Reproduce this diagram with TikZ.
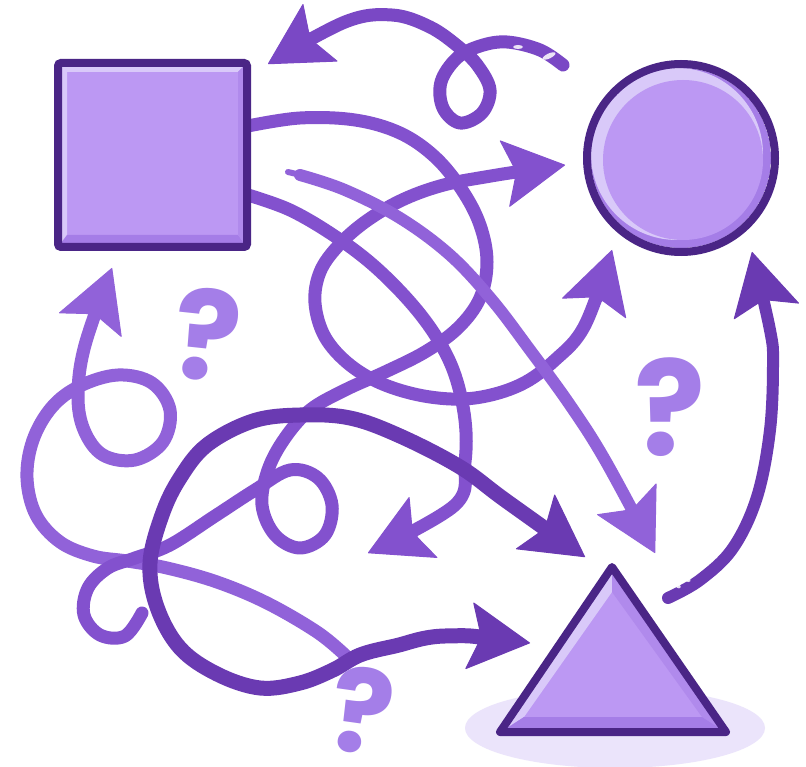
\documentclass[tikz,border=0pt]{standalone}
\usepackage{fontspec}
\newfontfamily\qfont{Poppins}
\usetikzlibrary{arrows.meta}
\definecolor{dk}{HTML}{4A2586}
\definecolor{fillmain}{HTML}{BC98F3}
\definecolor{hl}{HTML}{D9C9F9}
\definecolor{sh}{HTML}{A57DE7}
\definecolor{shtwo}{HTML}{B08AEC}
\definecolor{amed}{HTML}{8351CE}
\definecolor{alight}{HTML}{9162D9}
\definecolor{adark}{HTML}{6A3AB2}
\definecolor{atop}{HTML}{7A48C5}
\definecolor{qcol}{HTML}{A47EE8}
\definecolor{shadowcol}{HTML}{EBE4FB}
\tikzset{
  strk/.style={line width=13pt, line cap=round, line join=round},
  qmark/.style={text=qcol, inner sep=0pt,
    font=\qfont\bfseries\fontsize{124}{124}\selectfont},
  glint/.style={fill=white, opacity=0.85},
}
\begin{document}
\begin{tikzpicture}[x=1pt,y=-1pt,
  >={Stealth[length=62pt,width=68pt,inset=12pt,round,line width=1pt]}]
\useasboundingbox (0,0) rectangle (806,767);
\fill[white] (0,0) rectangle (806,767);

% ---- connectors (tangled arrows) ----
% light arrow on the left, pointing up towards the square
\draw[strk, alight, ->] plot[smooth, tension=0.6] coordinates {(345,655) (317,632) (267,603) (217,582) (167,568) (127,561) (93,556) (60,542) (36,515) (27,478) (33,440) (52,407) (80,386) (118,375) (152,383) (170,410) (163,442) (135,460) (103,455) (84,430) (78,395) (85,345) (112,268)};

% from square top-right: big arc, down, small loop, hook
\draw[strk, amed] plot[smooth, tension=0.6] coordinates {(248,126) (300,118) (355,120) (400,133) (435,157) (462,190) (480,225) (487,262) (480,298) (458,328) (425,352) (385,372) (345,390) (310,410) (285,438) (268,470) (262,505) (275,535) (300,548) (325,535) (332,505) (318,478) (290,470) (255,490) (215,516) (170,545) (135,558) (108,568) (88,588) (84,615) (100,635) (125,636) (142,613)};

% from square lower-right: diagonal turning back down-left
\draw[strk, amed, ->] plot[smooth, tension=0.6] coordinates {(248,195) (290,210) (333,235) (373,265) (410,302) (437,338) (455,375) (465,420) (465,462) (455,505) (368,553)};

% double-headed loop: to circle (right) and to circle (up)
\draw[strk, amed, <->] plot[smooth, tension=0.6] coordinates {(565,165) (485,177) (440,186) (400,201) (365,222) (338,246) (320,272) (315,303) (325,337) (350,365) (385,385) (430,397) (475,398) (520,385) (555,360) (585,325) (612,250)};

% light diagonal towards triangle (tapered start)
\draw[alight, line width=6pt, line cap=round] (288,172) -- (305,176);
\draw[strk, alight, line width=12pt, ->] plot[smooth, tension=0.6] coordinates {(300,175) (345,190) (400,218) (450,255) (492,300) (530,350) (570,405) (605,460) (655,553)};

% dark loop, both ends to the triangle
\draw[strk, adark, line width=15pt, <->] plot[smooth, tension=0.6] coordinates {(530,643) (445,636) (395,646) (360,655) (333,670) (300,683) (260,688) (217,674) (180,648) (157,607) (150,563) (162,515) (180,478) (207,445) (253,421) (300,415) (350,418) (400,436) (460,467) (505,500) (585,557)};

% top arrow with a loop, pointing left
\draw[strk, atop, ->] plot[smooth, tension=0.6] coordinates {(563,65) (540,50) (507,42) (480,46) (457,58) (441,82) (443,108) (460,123) (482,113) (490,90) (478,66) (460,48) (430,27) (392,15) (345,22) (268,64)};
\fill[glint] (518,47) ellipse[x radius=5, y radius=2];
\fill[glint, rotate around={25:(549,56)}] (549,56) ellipse[x radius=7, y radius=2.5];

% right arrow from triangle up to circle
\draw[strk, adark, line width=12pt, ->] plot[smooth, tension=0.6] coordinates {(668,598) (700,580) (733,548) (757,497) (770,430) (773,363) (770,330) (752,252)};
\fill[glint, rotate around={-35:(687,579)}] (687,579) ellipse[x radius=4, y radius=2.5];
\fill[glint, rotate around={-35:(678,586)}] (678,586) ellipse[x radius=3, y radius=2];

% ---- square ----
\fill[fillmain] (58,63) rectangle (247,247);
\fill[hl] (58,63) -- (247,63) -- (238,72) -- (67,72) -- (67,238) -- (58,247) -- cycle;
\fill[sh] (58,247) -- (247,247) -- (238,235) -- (67,235) -- cycle;
\fill[shtwo] (247,63) -- (247,247) -- (238,235) -- (238,72) -- cycle;
\draw[dk, line width=8pt, rounded corners=3pt] (58,63) rectangle (247,247);

% ---- circle ----
\begin{scope}
  \clip (681,158) circle[radius=90];
  \fill[sh] (681,158) circle[radius=90];
  \fill[hl] (677,154) circle[radius=86];
  \fill[fillmain] (683,160) circle[radius=80];
\end{scope}
\draw[dk, line width=8pt] (681,158) circle[radius=94];

% ---- triangle ----
\fill[shadowcol] (615,728) ellipse[x radius=150, y radius=40];
\fill[fillmain] (612,567) -- (500,732) -- (726,732) -- cycle;
\fill[hl] (612,574) -- (507,728) -- (524,717) -- (612,592) -- cycle;
\fill[shtwo] (612,574) -- (719,728) -- (702,717) -- (612,592) -- cycle;
\fill[sh] (507,728) -- (719,728) -- (702,717) -- (524,717) -- cycle;
\draw[dk, line width=8pt, line join=round] (612,567) -- (500,732) -- (726,732) -- cycle;

% ---- question marks ----
\node[qmark, rotate=-6] (q1) at (207,335) {?};
\node[qmark, font=\qfont\bfseries\fontsize{132}{132}\selectfont] (q2) at (670,407) {?};
\node[qmark, rotate=-8, font=\qfont\bfseries\fontsize{116}{116}\selectfont] (q3) at (362,711) {?};
\end{tikzpicture}
\end{document}
